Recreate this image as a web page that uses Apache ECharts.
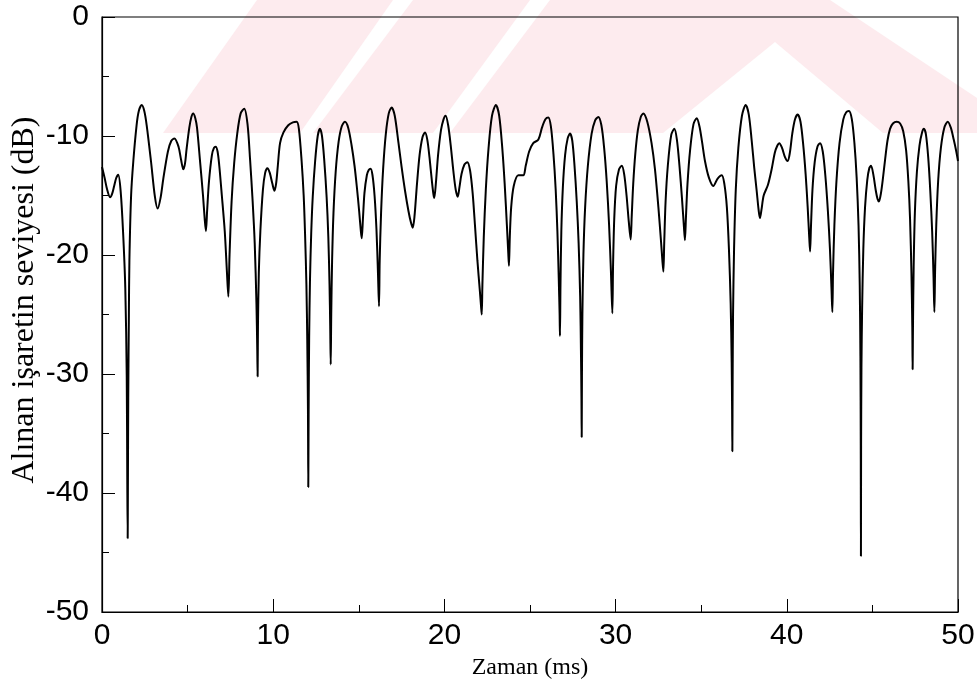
<!DOCTYPE html>
<html>
<head>
<meta charset="utf-8">
<script src="https://cdn.jsdelivr.net/npm/echarts@6/dist/echarts.min.js"></script>
<style>
  html, body { margin: 0; padding: 0; background: #ffffff; }
  #chart { width: 977px; height: 694px; }
</style>
</head>
<body>
<div id="chart"></div>
<script>
// ---- Data ----
const xTitle = 'Zaman (ms)';
const yTitle = 'Alınan işaretin seviyesi (dB)';
const xRange = [0, 50];
const yRange = [-50, 0];
const tickStep = 10;

// [time (ms), received level (dB)]
const levelPoints = [
  [0,-12.6],[0.15,-13.5],[0.3,-14.5],[0.47,-15.15],
  [0.59,-14.87],[0.71,-14.2],[0.83,-13.53],[0.95,-13.25],
  [1.09,-14.65],[1.23,-18.05],[1.36,-22.75],[1.445,-30.25],[1.478,-39.25],[1.50,-43.8],
  [1.512,-40],[1.533,-32],[1.57,-25],[1.6,-20.5],[1.7,-15],[1.83,-12.1],[2.02,-9.1],[2.15,-7.9],[2.32,-7.4],
  [2.47,-7.9],[2.61,-9.1],[2.86,-12.1],[3.09,-15.1],[3.25,-16.1],
  [3.42,-15.2],[3.58,-13.6],[3.85,-11.3],[4.05,-10.4],[4.23,-10.2],
  [4.47,-10.9],[4.62,-12.0],[4.75,-12.8],
  [4.85,-12.3],[4.94,-11.1],[5.1,-9.3],[5.22,-8.4],[5.33,-8.1],
  [5.45,-8.5],[5.55,-9.3],[5.72,-12.0],[5.9,-15.0],[6.0,-17.0],[6.07,-18.0],
  [6.14,-16.3],[6.25,-13.8],[6.42,-11.6],[6.54,-11.0],[6.64,-10.9],
  [6.75,-11.3],[6.85,-12.5],[7.0,-15.0],[7.17,-18.0],[7.3,-21.5],[7.38,-23.5],
  [7.45,-20.0],[7.57,-15.5],[7.72,-12.3],[7.9,-9.8],[8.1,-8.1],[8.31,-7.7],
  [8.5,-9.0],[8.65,-12.0],[8.8,-15.5],[8.92,-19.0],[9.02,-24.0],[9.07,-28.0],[9.09,-30.2],
  [9.11,-26],[9.16,-21.5],[9.25,-18.0],[9.4,-14.5],[9.53,-13.1],[9.66,-12.7],
  [9.8,-13.1],[9.95,-14.0],[10.07,-14.6],
  [10.17,-14.0],[10.27,-12.5],[10.4,-10.6],[10.6,-9.7],[10.88,-9.1],[11.15,-8.85],[11.37,-8.8],
  [11.5,-9.4],[11.66,-12.1],[11.78,-15.0],[11.86,-18.2],[11.94,-22.5],[11.99,-27.2],[12.03,-33.0],[12.05,-39.5],
  [12.07,-33],[12.1,-27],[12.15,-22],[12.22,-18.2],[12.31,-15.1],[12.45,-12.1],[12.6,-10.0],[12.73,-9.4],
  [12.85,-10.0],[12.98,-12.0],[13.12,-15.1],[13.22,-18.5],[13.29,-22.5],[13.33,-26.0],[13.36,-29.2],
  [13.39,-25.0],[13.44,-20.5],[13.52,-16.5],[13.65,-13.0],[13.82,-10.5],[14.0,-9.2],[14.19,-8.8],
  [14.38,-9.3],[14.58,-10.8],[14.75,-12.5],[14.88,-14.2],[15.02,-16.3],[15.12,-18.0],[15.17,-18.6],
  [15.24,-17.0],[15.33,-14.8],[15.47,-13.3],[15.58,-12.85],[15.69,-12.75],
  [15.8,-13.3],[15.92,-15.0],[16.03,-17.8],[16.12,-21.5],[16.18,-24.3],
  [16.22,-20.5],[16.3,-16.5],[16.42,-12.8],[16.58,-9.8],[16.75,-8.1],[16.92,-7.6],
  [17.1,-8.3],[17.31,-10.5],[17.5,-12.6],[17.7,-14.6],[17.9,-16.3],[18.05,-17.3],[18.15,-17.7],
  [18.25,-16.8],[18.4,-14.0],[18.55,-11.6],[18.72,-10.1],[18.87,-9.7],
  [19.0,-10.3],[19.13,-11.8],[19.27,-13.8],[19.36,-14.9],[19.41,-15.2],
  [19.5,-14.0],[19.63,-11.6],[19.8,-9.5],[19.95,-8.6],[20.07,-8.3],
  [20.22,-9.1],[20.37,-10.8],[20.52,-12.9],[20.66,-14.5],[20.78,-15.1],
  [20.88,-14.3],[21.0,-13.2],[21.17,-12.4],[21.34,-12.2],
  [21.5,-12.9],[21.65,-14.8],[21.79,-17.6],[21.93,-20.5],[22.07,-23.0],[22.14,-24.3],[22.18,-25.0],
  [22.22,-22.5],[22.3,-18.5],[22.42,-14.5],[22.58,-11.0],[22.78,-8.3],[23.01,-7.4],
  [23.2,-8.3],[23.38,-11.0],[23.52,-14.0],[23.65,-17.5],[23.73,-19.8],[23.77,-20.9],
  [23.82,-18.5],[23.9,-16.0],[24.05,-14.2],[24.32,-13.3],[24.61,-13.3],[24.75,-12.5],[24.95,-11.3],[25.19,-10.6],[25.49,-10.3],[25.7,-9.3],[25.9,-8.6],[26.07,-8.45],
  [26.22,-9.2],[26.37,-11.5],[26.5,-14.5],[26.6,-18.0],[26.68,-22.0],[26.73,-25.0],[26.75,-26.8],
  [26.78,-22.5],[26.83,-18.0],[26.92,-14.3],[27.05,-11.6],[27.2,-10.2],[27.34,-9.8],
  [27.47,-10.4],[27.6,-12.5],[27.73,-15.5],[27.84,-19.0],[27.93,-23.5],[27.98,-28.5],[28.005,-32],[28.02,-35.3],
  [28.035,-30],[28.06,-25],[28.12,-20],[28.22,-16.0],[28.38,-12.5],[28.6,-9.8],[28.8,-8.7],[28.99,-8.4],
  [29.17,-9.1],[29.33,-11.0],[29.48,-13.8],[29.62,-17.5],[29.73,-21.5],[29.81,-24.9],
  [29.85,-21.0],[29.92,-17.0],[30.03,-14.2],[30.2,-12.8],[30.36,-12.5],
  [30.5,-13.2],[30.64,-15.0],[30.77,-17.2],[30.88,-18.7],
  [30.94,-16.8],[31.03,-14.0],[31.15,-11.5],[31.3,-9.5],[31.47,-8.4],[31.62,-8.1],
  [31.85,-8.8],[32.1,-10.6],[32.3,-12.8],[32.5,-16.0],[32.65,-18.8],[32.74,-20.6],[32.79,-21.4],
  [32.84,-19.0],[32.92,-15.5],[33.05,-12.5],[33.25,-9.9],[33.43,-9.4],
  [33.58,-10.3],[33.73,-12.5],[33.88,-15.3],[33.99,-17.6],[34.05,-18.75],
  [34.11,-16.8],[34.2,-14.0],[34.35,-11.2],[34.55,-9.0],[34.74,-8.5],
  [34.9,-9.2],[35.05,-10.5],[35.22,-12.1],[35.45,-13.5],[35.71,-14.2],[35.95,-13.6],[36.2,-13.3],
  [36.35,-14.0],[36.5,-16.0],[36.62,-19.5],[36.72,-24.0],[36.78,-29.0],[36.805,-33],[36.82,-36.5],
  [36.835,-31],[36.86,-25],[36.92,-19.5],[37.02,-14.5],[37.17,-11.0],[37.38,-8.3],[37.6,-7.4],
  [37.78,-8.2],[37.95,-10.4],[38.1,-12.7],[38.24,-14.6],[38.36,-16.3],[38.43,-16.9],
  [38.52,-16.2],[38.65,-15.0],[38.9,-14.1],[39.1,-12.9],[39.3,-11.4],[39.45,-10.8],[39.56,-10.6],
  [39.72,-11.0],[39.9,-11.8],[40.05,-12.1],
  [40.18,-11.4],[40.32,-9.8],[40.48,-8.6],[40.64,-8.2],
  [40.8,-8.8],[40.95,-10.6],[41.1,-13.2],[41.22,-16.0],[41.31,-18.5],[41.36,-19.7],
  [41.41,-17.7],[41.5,-14.5],[41.63,-12.2],[41.79,-10.9],[41.94,-10.6],
  [42.1,-11.3],[42.25,-13.3],[42.4,-16.3],[42.52,-19.5],[42.61,-22.8],[42.66,-24.8],
  [42.7,-21.5],[42.78,-17.5],[42.9,-13.8],[43.08,-10.6],[43.3,-8.6],[43.47,-8.0],[43.63,-7.9],
  [43.8,-8.6],[43.95,-10.6],[44.08,-13.5],[44.19,-17.5],[44.26,-22.5],[44.3,-28.5],[44.32,-36],[44.33,-45.3],
  [44.34,-36],[44.36,-29.5],[44.4,-24.5],[44.47,-19.5],[44.57,-16.0],[44.7,-13.7],[44.82,-12.7],[44.92,-12.5],
  [45.05,-13.2],[45.2,-14.6],[45.3,-15.3],[45.38,-15.5],
  [45.5,-14.8],[45.62,-13.5],[45.74,-12.0],[45.88,-10.4],[46.03,-9.4],[46.2,-8.95],[46.42,-8.8],
  [46.62,-8.95],[46.8,-9.6],[46.97,-11.2],[47.1,-13.8],[47.2,-17.0],[47.28,-21.5],[47.33,-26.0],[47.35,-29.6],
  [47.37,-26.0],[47.41,-21.0],[47.48,-16.5],[47.6,-13.0],[47.75,-10.8],[47.9,-9.7],[48.01,-9.4],
  [48.13,-9.9],[48.26,-11.8],[48.38,-14.6],[48.49,-18.0],[48.57,-21.8],[48.62,-24.8],
  [48.66,-21.5],[48.73,-17.5],[48.84,-13.8],[49.0,-11.0],[49.2,-9.3],[49.4,-8.8],
  [49.58,-9.3],[49.75,-10.3],[49.9,-11.3],[50.0,-12.1]
];

// ---- Chart ----
const chart = echarts.init(document.getElementById('chart'), null, { renderer: 'canvas' });

const wm = '#fdebee';
const watermark = [
  [[163,133],[257,0],[393,0],[300,133]],
  [[313,133],[413,0],[530,0],[433,133]],
  [[450,133],[550,0],[830,0],[977,98],[977,133],[883,133],[775,42],[663,133]]
].map(pts => ({
  type: 'polygon', silent: true, z: -100,
  shape: { points: pts },
  style: { fill: wm }
}));

const yTitleText = {
  type: 'text', silent: true, z: 10,
  x: 25, y: 300, rotation: Math.PI / 2,
  style: {
    text: yTitle, fill: '#000',
    font: '32px "Liberation Serif"',
    align: 'center', verticalAlign: 'middle'
  }
};

const labelFont = { fontFamily: 'Liberation Sans', fontSize: 30, color: '#000' };

chart.setOption({
  backgroundColor: '#ffffff',
  animation: false,
  graphic: watermark.concat([yTitleText]),
  grid: {
    left: 102, right: 19, top: 17, bottom: 82,
    containLabel: false, outerBoundsMode: 'none',
    show: true, borderColor: '#000', borderWidth: 1.2, backgroundColor: 'transparent'
  },
  xAxis: {
    type: 'value', min: xRange[0], max: xRange[1], interval: tickStep,
    name: xTitle, nameLocation: 'middle', nameGap: 37,
    nameTextStyle: { fontFamily: 'Liberation Serif', fontSize: 24, color: '#000' },
    axisLine: { show: true, onZero: false, lineStyle: { color: '#000', width: 1.2 } },
    axisTick: { show: true, inside: true, length: 13, lineStyle: { color: '#000', width: 1 } },
    minorTick: { show: true, splitNumber: 2, length: 7, lineStyle: { color: '#000', width: 1 } },
    axisLabel: Object.assign({ margin: 9 }, labelFont),
    splitLine: { show: false }
  },
  yAxis: {
    type: 'value', min: yRange[0], max: yRange[1], interval: tickStep,
    axisLine: { show: true, onZero: false, lineStyle: { color: '#000', width: 1.2 } },
    axisTick: { show: true, inside: true, length: 13, lineStyle: { color: '#000', width: 1 } },
    minorTick: { show: true, splitNumber: 2, length: 7, lineStyle: { color: '#000', width: 1 } },
    axisLabel: Object.assign({ margin: 13 }, labelFont),
    splitLine: { show: false }
  },
  series: [{
    type: 'line',
    data: levelPoints,
    showSymbol: false,
    smooth: 0.3,
    lineStyle: { color: '#000', width: 2 },
    z: 5
  }]
});
</script>
</body>
</html>
